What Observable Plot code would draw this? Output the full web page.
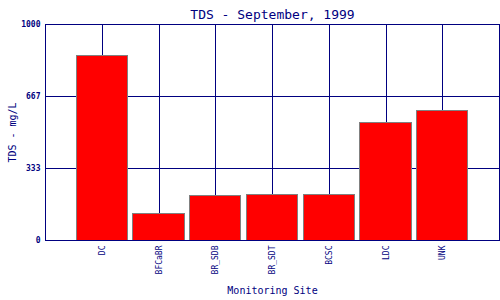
<!DOCTYPE html>
<html>
<head>
<meta charset="utf-8">
<script src="https://cdn.jsdelivr.net/npm/d3@7"></script>
<script src="https://cdn.jsdelivr.net/npm/@observablehq/plot@0.6"></script>
<style>
  html, body { margin: 0; padding: 0; background: white; }
  #chart svg line, #chart svg rect, #chart svg path { shape-rendering: crispEdges; }
</style>
</head>
<body>
<div id="chart"></div>
<script>
const sites = ["DC", "BFCaBR", "BR_SDB", "BR_SDT", "BCSC", "LDC", "UNK"];
const tds = [852, 123, 207, 212, 212, 545, 600];
const yTicks = [0, 333, 667, 1000];
const title = "TDS - September, 1999";
const yLabel = "TDS - mg/L";
const xLabel = "Monitoring Site";

const data = sites.map((s, i) => ({site: s, tds: tds[i]}));
const navy = "#000080";

const chart = Plot.plot({
  width: 500,
  height: 300,
  marginLeft: 45,
  marginRight: 1,
  marginTop: 24,
  marginBottom: 60,
  style: {fontFamily: "DejaVu Sans Mono", color: navy, background: "white"},
  x: {domain: sites, paddingInner: 0.1, paddingOuter: 0.55, round: false, label: null},
  y: {domain: [0, 1000], label: null},
  marks: [
    Plot.gridY(yTicks, {stroke: navy, strokeOpacity: 1, strokeWidth: 1}),
    Plot.gridX(sites, {stroke: navy, strokeOpacity: 1, strokeWidth: 1}),
    Plot.barY(data, {x: "site", y: "tds", fill: "#ff0000", stroke: "#808080", strokeWidth: 1}),
    Plot.frame({stroke: navy, strokeWidth: 1}),
    Plot.axisY(yTicks, {tickSize: 0, tickPadding: 5, fontSize: 8, fontWeight: "bold", fill: navy, label: null, tickFormat: d => String(d)}),
    Plot.axisX({tickSize: 0, tickPadding: 5, tickRotate: -90, fontSize: 8, fill: navy, label: null}),
    Plot.text([title], {frameAnchor: "top", dy: -15, fontSize: 13, fill: navy, textAnchor: "middle"}),
    Plot.text([yLabel], {frameAnchor: "left", dx: -33, rotate: -90, fontSize: 10, fill: navy, textAnchor: "middle"}),
    Plot.text([xLabel], {frameAnchor: "bottom", dy: 53, fontSize: 10, fill: navy, textAnchor: "middle"})
  ]
});
document.getElementById("chart").appendChild(chart);
</script>
</body>
</html>
